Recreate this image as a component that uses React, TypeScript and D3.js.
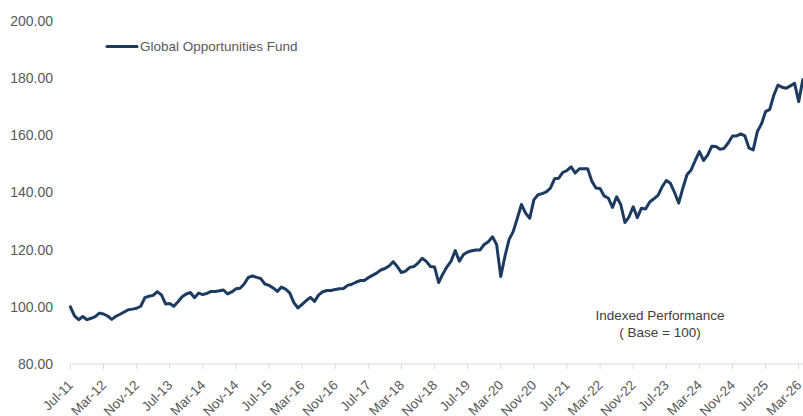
import React from "react";
import * as d3 from "d3";

const seriesName = "Global Opportunities Fund";

// Monthly index values, Jul-11 .. Apr-26
const fundValues: number[] = [
  100.0, 96.8, 95.5, 96.6, 95.5, 96.0, 96.6, 97.8, 97.5, 96.8,
  95.6, 96.7, 97.4, 98.2, 99.0, 99.2, 99.5, 100.2, 103.2, 103.7,
  104.0, 105.3, 104.2, 101.0, 101.2, 100.2, 101.8, 103.5, 104.5, 105.0,
  103.2, 104.8, 104.3, 104.7, 105.4, 105.4, 105.6, 105.9, 104.5, 105.2,
  106.3, 106.5, 108.0, 110.3, 110.8, 110.3, 109.9, 108.0, 107.5, 106.6,
  105.4, 106.9, 106.2, 104.9, 101.5, 99.6, 100.9, 102.2, 103.3, 101.9,
  104.2, 105.3, 105.7, 105.7, 106.1, 106.3, 106.4, 107.5, 107.9, 108.6,
  109.2, 109.2, 110.2, 111.0, 111.8, 112.9, 113.4, 114.3, 115.8, 114.1,
  112.0, 112.5, 113.8, 114.1, 115.3, 117.0, 115.9, 114.1, 113.9, 108.5,
  111.5, 114.0, 116.0, 119.7, 116.0, 118.3, 119.2, 119.6, 119.9, 119.9,
  121.8, 122.8, 124.5, 121.8, 110.6, 117.6, 123.5, 126.3, 131.0, 135.8,
  132.8, 131.0, 137.4, 139.2, 139.6, 140.2, 141.5, 144.8, 145.0, 147.0,
  147.7, 149.0, 146.8, 148.3, 148.3, 148.3, 144.0, 141.6, 141.4, 138.8,
  138.0, 134.8, 138.5, 135.8, 129.5, 131.5, 135.0, 131.2, 134.5, 134.2,
  136.7, 137.8, 139.0, 142.0, 144.2, 143.2, 140.0, 136.3, 141.5, 146.2,
  147.9, 151.2, 154.3, 151.2, 153.1, 156.2, 156.1, 155.1, 155.5, 157.4,
  159.8, 159.8, 160.5, 159.8, 155.5, 154.9, 161.3, 164.0, 168.3, 169.1,
  174.1, 177.6, 176.8, 176.5, 177.3, 178.2, 171.8, 179.5,
];

const xTickLabels: string[] = [
  "Jul-11", "Mar-12", "Nov-12", "Jul-13", "Mar-14", "Nov-14", "Jul-15", "Mar-16",
  "Nov-16", "Jul-17", "Mar-18", "Nov-18", "Jul-19", "Mar-20", "Nov-20", "Jul-21",
  "Mar-22", "Nov-22", "Jul-23", "Mar-24", "Nov-24", "Jul-25", "Mar-26",
];
const xTickStep = 8; // months between labels

const yTicks: number[] = [80, 100, 120, 140, 160, 180, 200];

const annotationLines: string[] = ["Indexed Performance", "( Base = 100)"];

const W = 803;
const H = 416;
const FONT = "'Liberation Sans', Arial, sans-serif";
const LINE_COLOR = "#1d3a60";
const TEXT_COLOR = "#595959";

export default function App() {
  const x = d3.scaleLinear().domain([0, 176]).range([70.4, 798.7]);
  const y = d3.scaleLinear().domain([80, 200]).range([364, 21]);

  const line = d3
    .line<number>()
    .x((_, i) => x(i))
    .y((d) => y(d));

  return (
    <svg
      width={W}
      height={H}
      style={{ position: "fixed", left: 0, top: 0, background: "#fff" }}
      fontFamily={FONT}
    >
      <rect width={W} height={H} fill="#fff" />
      {/* y tick labels */}
      {yTicks.map((t) => (
        <text
          key={t}
          x={53}
          y={y(t)}
          dy="0.35em"
          textAnchor="end"
          fontSize={14}
          fill={TEXT_COLOR}
        >
          {t.toFixed(2)}
        </text>
      ))}
      {/* x axis */}
      <line x1={x(0)} x2={W} y1={y(80)} y2={y(80)} stroke="#d9d9d9" strokeWidth={1} />
      {xTickLabels.map((lab, k) => {
        const xi = x(k * xTickStep);
        return (
          <g key={lab}>
            <line x1={xi} x2={xi} y1={y(80)} y2={y(80) + 5} stroke="#d9d9d9" strokeWidth={1} />
            <text
              transform={`translate(${xi + 3.5},${386}) rotate(-45)`}
              textAnchor="end"
              fontSize={13.5}
              fill={TEXT_COLOR}
            >
              {lab}
            </text>
          </g>
        );
      })}
      {/* series line */}
      <path
        d={line(fundValues) || ""}
        fill="none"
        stroke={LINE_COLOR}
        strokeWidth={3}
        strokeLinejoin="round"
        strokeLinecap="round"
      />
      {/* legend */}
      <line x1={107} x2={137} y1={46.5} y2={46.5} stroke={LINE_COLOR} strokeWidth={3} strokeLinecap="round" />
      <text x={140} y={46.5} dy="0.35em" fontSize={13.5} fill={TEXT_COLOR}>
        {seriesName}
      </text>
      {/* annotation */}
      {annotationLines.map((s, i) => (
        <text
          key={s}
          x={660}
          y={320 + i * 17}
          textAnchor="middle"
          fontSize={13.5}
          fill="#404040"
        >
          {s}
        </text>
      ))}
    </svg>
  );
}
